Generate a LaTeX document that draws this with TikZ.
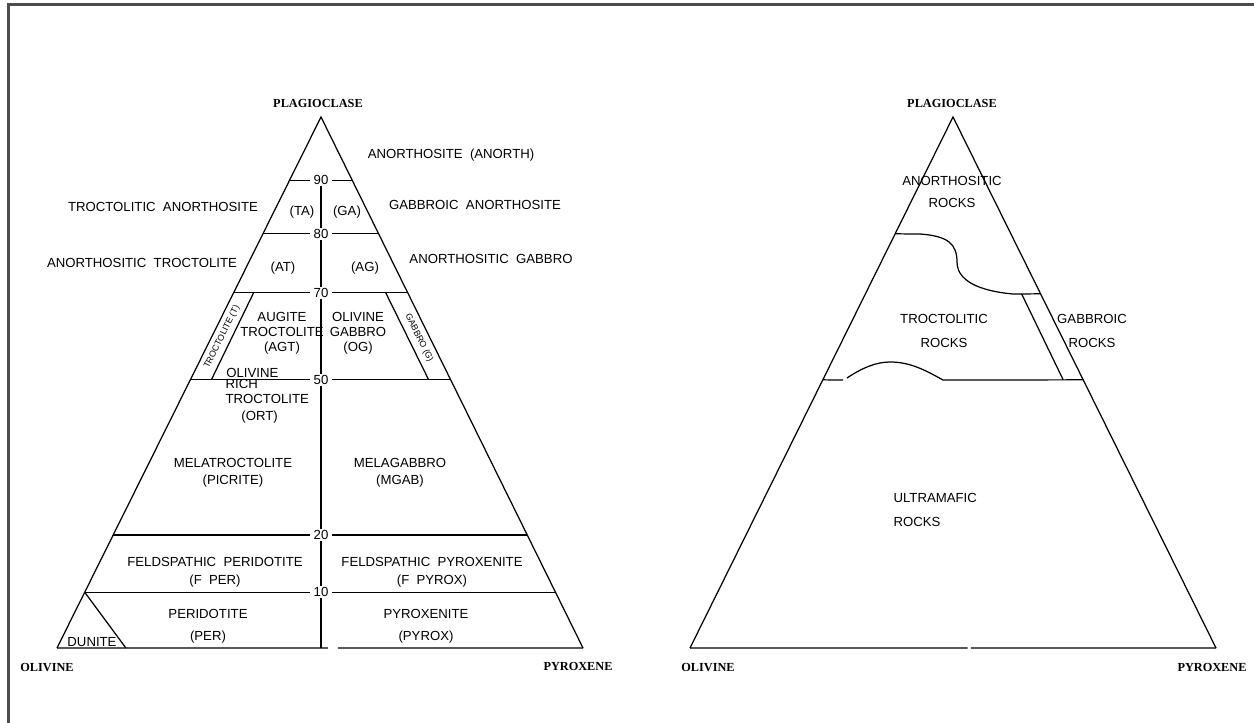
\documentclass[tikz,border=0pt]{standalone}
\usepackage{fontspec}
\setmainfont{Liberation Sans}
\newfontfamily\vtxfamily{Liberation Serif}
\usetikzlibrary{calc}

\begin{document}
\begin{tikzpicture}[x=0.02cm,y=-0.02cm,line width=0.7pt]
\tikzstyle{every node}=[inner sep=0pt, align=center, font=\fontsize{7.5}{8.5}\selectfont]
\tikzstyle{vtx}=[font=\vtxfamily\bfseries\fontsize{7}{8}\selectfont]
\tikzstyle{num}=[fill=white, inner xsep=2pt, inner ysep=1pt]
\tikzstyle{strip}=[font=\fontsize{5}{6}\selectfont]
\useasboundingbox (0,0) rectangle (1254,723);
\draw[line width=1.4pt, black!70] (8.5,723) |- (1254,4.5);

% left diagram
\coordinate (pl) at (321,117);
\coordinate (ol) at (57,648);
\coordinate (px) at (583,648);
\draw (ol) -- (pl) -- (px);
\draw (ol) -- ($(ol)!0.515!(px)$);
\draw ($(ol)!0.534!(px)$) -- (px);
\foreach \t in {0.881,0.780,0.669,0.505,0.213,0.105}
  \draw ($(ol)!\t!(pl)$) -- ($(px)!\t!(pl)$);
\draw ($(ol)!0.669!(pl)+(20,0)$) -- ($(ol)!0.505!(pl)+(21,0)$);
\draw ($(px)!0.669!(pl)+(-22,0)$) -- ($(px)!0.505!(pl)+(-22,0)$);
\draw ($(ol)!0.105!(pl)$) -- ($(ol)!0.131!(px)$);
\draw (321,180) -- (321,648);
\foreach \y/\v in {180/90,234/80,293/70,380/50,535/20,592/10}
  \node[num] (n\v) at (321,\y) {\v};

\node[vtx] (plag) at (318,103) {PLAGIOCLASE};
\node[vtx] (oliv) at (47,668) {OLIVINE};
\node[vtx] (pyrx) at (578,666) {PYROXENE};

\node (anorth) at (451,155) {ANORTHOSITE\ \ (ANORTH)};
\node (tanl) at (163,207) {TROCTOLITIC\ \ ANORTHOSITE};
\node (ta) at (302,212) {(TA)};
\node (ga) at (347,212) {(GA)};
\node (ganl) at (475,205) {GABBROIC\ \ ANORTHOSITE};
\node (atrl) at (142,263) {ANORTHOSITIC\ \ TROCTOLITE};
\node (at) at (283,268) {(AT)};
\node (ag) at (365,268) {(AG)};
\node (agbl) at (491,259) {ANORTHOSITIC\ \ GABBRO};
\node (agt) at (282,333) {AUGITE\\TROCTOLITE\\(AGT)};
\node (og) at (358,333) {OLIVINE\\GABBRO\\(OG)};
\node[strip, rotate=63.6] (tr) at (222,337) {TROCTOLITE (T)};
\node[strip, rotate=-63.6] (gb) at (419,338) {GABBRO (G)};
\node[fill=white, inner xsep=1pt, anchor=west] (ortA) at (224,373) {OLIVINE};
\node[align=left, anchor=west] (ortB) at (225,401) {RICH\\TROCTOLITE\\[1.2pt]\hspace*{1.2em}(ORT)};
\node (mtr) at (233,473) {MELATROCTOLITE\\[1.2pt](PICRITE)};
\node (mgab) at (400,473) {MELAGABBRO\\[1.2pt](MGAB)};
\node (fper) at (215,572) {FELDSPATHIC\ \ PERIDOTITE\\[1.5pt](F\ \ PER)};
\node (fpyr) at (432,572) {FELDSPATHIC\ \ PYROXENITE\\[1.5pt](F\ \ PYROX)};
\node (per) at (208,626) {PERIDOTITE\\[4pt](PER)};
\node (pyr) at (426,626) {PYROXENITE\\[4pt](PYROX)};
\node (dun) at (92,642) {DUNITE};

% right diagram
\coordinate (pl2) at (953,117);
\coordinate (ol2) at (690,648);
\coordinate (px2) at (1216,648);
\draw (ol2) -- (pl2) -- (px2);
\draw (ol2) -- ($(ol2)!0.528!(px2)$);
\draw ($(ol2)!0.534!(px2)$) -- (px2);
\draw ($(ol2)!0.780!(pl2)$) -- (920,234) .. controls (948,236) and (957,244) .. (957,262)
  .. controls (957,285) and (990,292) .. (1013,294) -- ($(px2)!0.667!(pl2)$);
\draw ($(px2)!0.667!(pl2)+(-19,0)$) -- ($(px2)!0.505!(pl2)+(-20,0)$);
\draw ($(ol2)!0.505!(pl2)$) -- (843,380);
\draw (847,378) .. controls (862,368) and (876,362) .. (890,362)
  .. controls (910,362) and (925,370) .. (943,380) -- ($(px2)!0.505!(pl2)$);

\node[vtx] (plag2) at (952,103) {PLAGIOCLASE};
\node[vtx] (oliv2) at (708,668) {OLIVINE};
\node[vtx] (pyrx2) at (1212,667) {PYROXENE};
\node (anr) at (952,192) {ANORTHOSITIC\\[4.5pt]ROCKS};
\node (trr) at (944,331) {TROCTOLITIC\\[5pt]ROCKS};
\node (gbr) at (1092,331) {GABBROIC\\[5pt]ROCKS};
\node[align=left, anchor=west] (umr) at (893,510) {ULTRAMAFIC\\[5pt]ROCKS};
\end{tikzpicture}
\end{document}
